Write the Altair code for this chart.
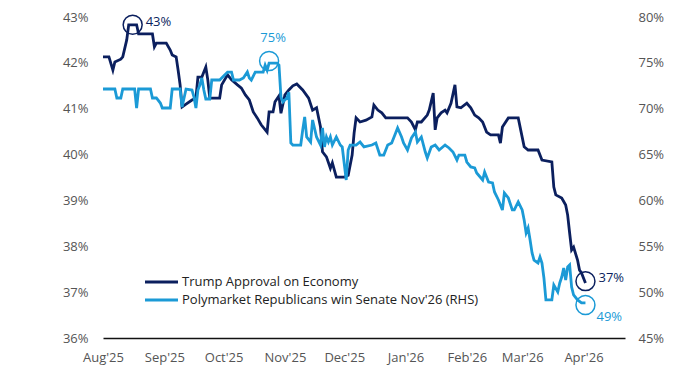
import altair as alt
import pandas as pd

# ---- data ----
dark_dates = [
    "2025-08-01","2025-08-04","2025-08-06","2025-08-07","2025-08-10","2025-08-11","2025-08-13","2025-08-14","2025-08-18","2025-08-19","2025-08-26","2025-08-27","2025-08-28",
    "2025-09-02","2025-09-04","2025-09-05","2025-09-07","2025-09-08","2025-09-09","2025-09-10","2025-09-12","2025-09-15","2025-09-17","2025-09-18","2025-09-20","2025-09-22","2025-09-23","2025-09-24","2025-09-29","2025-09-30",
    "2025-10-03","2025-10-05","2025-10-08","2025-10-10","2025-10-12","2025-10-14","2025-10-16","2025-10-18","2025-10-20","2025-10-23","2025-10-24","2025-10-26","2025-10-27","2025-10-29","2025-10-30",
    "2025-11-01","2025-11-03","2025-11-05","2025-11-07","2025-11-10","2025-11-13","2025-11-15","2025-11-17","2025-11-19","2025-11-20","2025-11-22","2025-11-24","2025-11-25","2025-11-27",
    "2025-12-01","2025-12-03","2025-12-05","2025-12-06","2025-12-07","2025-12-09","2025-12-12","2025-12-15","2025-12-16","2025-12-18","2025-12-20","2025-12-22",
    "2026-01-02","2026-01-04","2026-01-06","2026-01-07","2026-01-09","2026-01-12","2026-01-13","2026-01-15","2026-01-16","2026-01-17","2026-01-19","2026-01-21","2026-01-22","2026-01-24","2026-01-26","2026-01-27","2026-01-29",
    "2026-02-01","2026-02-03","2026-02-05","2026-02-07","2026-02-09","2026-02-11","2026-02-13","2026-02-17","2026-02-18","2026-02-19","2026-02-22","2026-02-27",
    "2026-03-01","2026-03-02","2026-03-04","2026-03-09","2026-03-11","2026-03-16","2026-03-17","2026-03-18","2026-03-21","2026-03-23","2026-03-24","2026-03-25","2026-03-26","2026-03-27","2026-03-29","2026-03-30","2026-03-31",
    "2026-04-02",
]
dark_vals = [
    42.13,42.13,41.84,42.02,42.08,42.13,42.5,42.83,42.83,42.63,42.63,42.35,42.43,
    42.43,42.28,42.17,42.13,41.84,41.52,41.04,41.1,41.19,41.23,41.69,41.69,41.91,41.63,41.23,41.23,41.52,
    41.74,41.63,41.52,41.45,41.3,41.19,40.93,40.8,40.65,40.49,40.93,40.93,41.15,41.28,40.9,
    41.3,41.41,41.5,41.54,41.41,41.23,40.97,41.02,40.6,40.06,39.95,39.7,39.82,39.51,
    39.51,39.55,39.99,40.47,40.8,40.71,40.75,40.82,41.08,40.97,40.91,40.8,
    40.8,40.71,40.54,40.71,40.71,40.86,40.97,41.34,40.54,40.8,40.91,40.97,40.91,41.12,41.52,41.04,41.02,
    41.12,41.02,40.86,40.8,40.71,40.49,40.43,40.43,40.25,40.6,40.8,40.8,
    40.38,40.17,40.1,40.1,39.88,39.84,39.29,39.12,39.05,38.9,38.68,38.29,37.92,37.98,37.7,37.48,37.42,
    37.2,
]

light_dates = [
    "2025-08-01","2025-08-07","2025-08-08","2025-08-10","2025-08-11","2025-08-17","2025-08-18","2025-08-19","2025-08-25","2025-08-26","2025-08-28","2025-08-30","2025-08-31",
    "2025-09-04","2025-09-05","2025-09-09","2025-09-10","2025-09-11","2025-09-12","2025-09-15","2025-09-16","2025-09-17","2025-09-18","2025-09-19","2025-09-20","2025-09-21","2025-09-22","2025-09-24","2025-09-25","2025-09-29",
    "2025-10-03","2025-10-05","2025-10-06","2025-10-09","2025-10-11","2025-10-13","2025-10-14","2025-10-15","2025-10-17","2025-10-21","2025-10-22","2025-10-23","2025-10-24","2025-10-28","2025-10-29","2025-10-30","2025-10-31",
    "2025-11-02","2025-11-03","2025-11-04","2025-11-05","2025-11-09","2025-11-10","2025-11-11","2025-11-12","2025-11-14","2025-11-15","2025-11-17","2025-11-19","2025-11-20","2025-11-21","2025-11-22","2025-11-23","2025-11-24","2025-11-25","2025-11-27","2025-11-29","2025-11-30",
    "2025-12-02","2025-12-03","2025-12-04","2025-12-07","2025-12-09","2025-12-11","2025-12-15","2025-12-17","2025-12-19","2025-12-21","2025-12-23","2025-12-25","2025-12-27","2025-12-28","2025-12-30","2025-12-31",
    "2026-01-02","2026-01-04","2026-01-06","2026-01-07","2026-01-09","2026-01-11","2026-01-12","2026-01-14","2026-01-16","2026-01-18","2026-01-21","2026-01-23","2026-01-25","2026-01-27","2026-01-28","2026-01-31",
    "2026-02-01","2026-02-03","2026-02-05","2026-02-06","2026-02-09","2026-02-10","2026-02-12","2026-02-14","2026-02-15","2026-02-17","2026-02-19","2026-02-20","2026-02-22","2026-02-24","2026-02-25","2026-02-27",
    "2026-03-01","2026-03-02","2026-03-03","2026-03-04","2026-03-05","2026-03-06","2026-03-07","2026-03-09","2026-03-10","2026-03-11","2026-03-12","2026-03-13","2026-03-16","2026-03-17","2026-03-19","2026-03-20","2026-03-21","2026-03-22","2026-03-23","2026-03-24","2026-03-25","2026-03-26","2026-03-27","2026-03-29","2026-03-31",
    "2026-04-02",
]
light_vals = [
    72.15,72.15,71.17,71.17,72.15,72.15,70.08,72.15,72.15,71.17,71.17,70.62,70.08,
    70.08,72.15,72.15,70.19,71.17,72.15,72.04,71.28,70.08,72.04,72.59,73.35,72.04,71.06,71.06,73.13,73.13,
    74.0,74.0,73.13,73.13,73.35,74.0,73.35,73.13,74.0,74.0,74.76,74.2,74.98,74.98,74.76,71.28,70.73,
    71.17,71.8,66.26,66.04,66.04,67.68,69.1,66.92,66.37,68.77,66.92,66.04,67.9,65.83,66.92,66.37,66.92,66.04,66.92,66.04,65.83,
    62.23,65.5,66.04,66.04,66.37,65.83,66.04,66.26,64.95,64.95,66.04,66.26,67.35,67.9,66.92,66.26,
    65.5,66.81,67.46,66.37,66.92,65.28,64.63,65.83,66.04,65.5,66.04,65.72,65.28,64.41,64.95,64.95,
    64.19,63.65,63.54,63.0,62.23,63.1,62.0,61.9,60.92,60.05,58.96,60.81,60.27,58.96,58.96,59.83,
    58.96,57.87,56.45,57.0,55.69,54.27,53.5,53.18,53.83,53.18,51.54,49.15,49.15,50.78,50.02,51.0,51.65,52.63,51.33,52.74,52.96,50.56,49.69,49.15,48.82,
    48.82,
]

x_tick_months = [(2025, 8), (2025, 9), (2025, 10), (2025, 11), (2025, 12),
                 (2026, 1), (2026, 2), (2026, 3), (2026, 4)]
left_ticks = [36, 37, 38, 39, 40, 41, 42, 43]
right_ticks = [45, 50, 55, 60, 65, 70, 75, 80]

dark_ann_dates = ["2025-08-16", "2026-04-02"]
dark_ann_vals = [42.83, 37.24]
dark_ann_labels = ["43%", "37%"]
light_ann_dates = ["2025-10-24", "2026-04-02"]
light_ann_vals = [75.2, 48.6]
light_ann_labels = ["75%", "49%"]

series_names = ["Trump Approval on Economy", "Polymarket Republicans win Senate Nov'26 (RHS)"]

# ---- styling ----
NAVY = "#0b1f5e"
BLUE = "#1b9ad6"
FONT = "Open Sans"
LABEL_COLOR = "#555555"

assert len(dark_dates) == len(dark_vals)
assert len(light_dates) == len(light_vals)

dark_df = pd.DataFrame({"date": dark_dates, "value": dark_vals})
light_df = pd.DataFrame({"date": light_dates, "value": light_vals})
dark_ann = pd.DataFrame({"date": dark_ann_dates, "value": dark_ann_vals, "label": dark_ann_labels})
light_ann = pd.DataFrame({"date": light_ann_dates, "value": light_ann_vals, "label": light_ann_labels})

x_enc = alt.X(
    "date:T",
    title=None,
    scale=alt.Scale(
        type="utc",
        domain=[alt.DateTime(year=2025, month=8, date=1, utc=True),
                alt.DateTime(year=2026, month=4, date=22, utc=True)],
        nice=False,
    ),
    axis=alt.Axis(
        values=[alt.DateTime(year=y, month=m, date=1, utc=True) for y, m in x_tick_months],
        labelExpr='utcFormat(datum.value, "%b\'%y")',
        ticks=False, grid=False, domainColor="#111111", domainWidth=1.5,
        labelFont=FONT, labelFontSize=13, labelColor=LABEL_COLOR,
        labelPadding=13, labelFlush=False, labelOverlap=False,
    ),
)

axis_left = alt.Axis(
    orient="left", values=left_ticks, labelExpr="datum.value + '%'",
    domain=False, ticks=False, grid=False, labelPadding=15,
    labelFont=FONT, labelFontSize=13, labelColor=LABEL_COLOR,
)
axis_right = alt.Axis(
    orient="right", values=right_ticks, labelExpr="datum.value + '%'",
    domain=False, ticks=False, grid=False, labelPadding=13,
    labelFont=FONT, labelFontSize=13, labelColor=LABEL_COLOR,
)
y_left = alt.Y("value:Q", title=None, scale=alt.Scale(domain=[36, 43], nice=False, zero=False), axis=axis_left)
y_right = alt.Y("value:Q", title=None, scale=alt.Scale(domain=[45, 80], nice=False, zero=False), axis=axis_right)

dark_line = alt.Chart(dark_df).mark_line(color=NAVY, strokeWidth=2.8).encode(x=x_enc, y=y_left)
dark_circ = alt.Chart(dark_ann).mark_point(shape="circle", filled=False, size=360, color=NAVY, strokeWidth=1.5, opacity=1).encode(x=x_enc, y=y_left)
dark_txt = alt.Chart(dark_ann).mark_text(align="left", baseline="middle", dx=13, dy=-3, font=FONT, fontSize=13, color=NAVY).encode(x=x_enc, y=y_left, text="label:N")

one_row = alt.Data(values=[{"k": 1}])
leg_rule1 = alt.Chart(one_row).mark_rule(color=NAVY, strokeWidth=3).encode(x=alt.value(42), x2=alt.value(75), y=alt.value(265))
leg_rule2 = alt.Chart(one_row).mark_rule(color=BLUE, strokeWidth=3).encode(x=alt.value(42), x2=alt.value(75), y=alt.value(283))
leg_txt1 = alt.Chart(one_row).mark_text(align="left", baseline="middle", font=FONT, fontSize=13, color="#222222").encode(
    x=alt.value(79), y=alt.value(265), text=alt.value(series_names[0]))
leg_txt2 = alt.Chart(one_row).mark_text(align="left", baseline="middle", font=FONT, fontSize=13, color="#222222").encode(
    x=alt.value(79), y=alt.value(283), text=alt.value(series_names[1]))

light_line = alt.Chart(light_df).mark_line(color=BLUE, strokeWidth=2.8).encode(x=x_enc, y=y_right)
light_circ = alt.Chart(light_ann).mark_point(shape="circle", filled=False, size=360, color=BLUE, strokeWidth=1.5, opacity=1).encode(x=x_enc, y=y_right)
light_txt75 = alt.Chart(light_ann).transform_filter(alt.datum.label == "75%").mark_text(
    align="center", baseline="middle", dx=4, dy=-23, font=FONT, fontSize=13, color=BLUE).encode(x=x_enc, y=y_right, text="label:N")
light_txt49 = alt.Chart(light_ann).transform_filter(alt.datum.label == "49%").mark_text(
    align="left", baseline="middle", dx=11, dy=12, font=FONT, fontSize=13, color=BLUE).encode(x=x_enc, y=y_right, text="label:N")

dark_group = alt.layer(dark_line, dark_circ, dark_txt, leg_rule1, leg_rule2, leg_txt1, leg_txt2)
light_group = alt.layer(light_line, light_circ, light_txt75, light_txt49)

chart = (
    alt.layer(dark_group, light_group)
    .resolve_scale(y="independent")
    .properties(
        width=522, height=321,
        autosize=alt.AutoSizeParams(type="none"),
        padding={"left": 95, "top": 9, "right": 60, "bottom": 30},
        background="white",
    )
    .configure_view(stroke=None)
)

chart.save("out.html", embed_options={"renderer": "svg", "actions": False})
